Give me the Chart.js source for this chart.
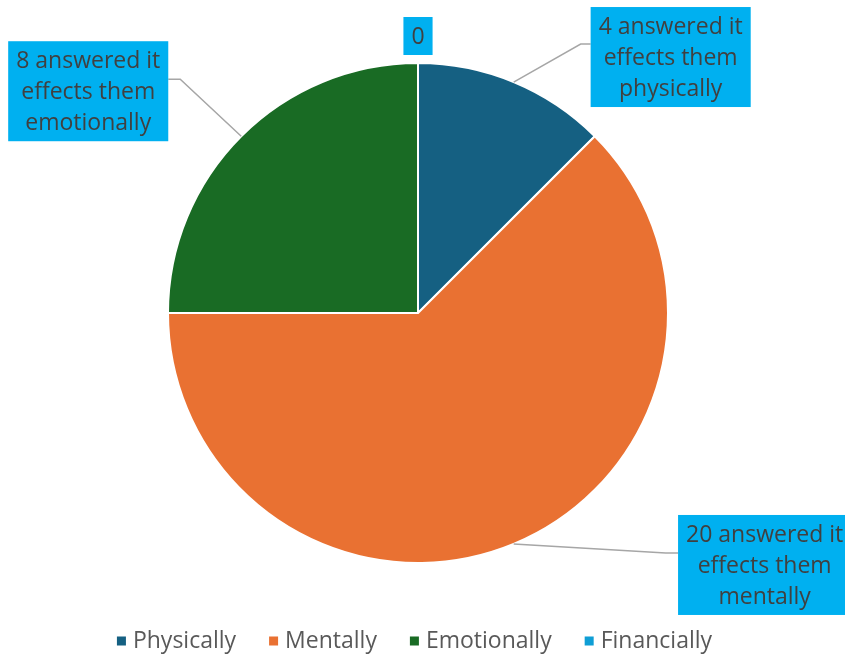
<!DOCTYPE html>
<html>
<head>
<meta charset="utf-8">
<script src="https://cdn.jsdelivr.net/npm/chart.js@4"></script>
<style>
  html, body { margin: 0; padding: 0; background: #fff; }
  #wrap { width: 845px; height: 655px; }
</style>
</head>
<body>
<div id="wrap"><canvas id="pie"></canvas></div>
<script>
const categories = ["Physically", "Mentally", "Emotionally", "Financially"];
const answers = [4, 20, 8, 0];
const calloutText = [
  ["4 answered it", "effects them", "physically"],
  ["20 answered it", "effects them", "mentally"],
  ["8 answered it", "effects them", "emotionally"],
  ["0"]
];
const colors = ["#156082", "#E97132", "#196B24", "#0F9ED5"];

// callout box centre and leader elbow, relative to the slice's outer edge point
const calloutOffset = [
  { dx: 157, dy: -25, elbow: [67, -38] },
  { dx: 251, dy: 21, elbow: [152, 9] },
  { dx: -153, dy: -45, elbow: [-61, -57] },
  { dx: 0, dy: -27, elbow: null }
];

const FONT = "23px 'Open Sans'";

const callouts = {
  id: "callouts",
  afterDatasetsDraw(chart) {
    const ctx = chart.ctx;
    const meta = chart.getDatasetMeta(0);
    ctx.save();
    ctx.font = FONT;
    ctx.textAlign = "center";
    ctx.textBaseline = "middle";
    meta.data.forEach((arc, i) => {
      const mid = (arc.startAngle + arc.endAngle) / 2;
      const ex = arc.x + Math.cos(mid) * arc.outerRadius;
      const ey = arc.y + Math.sin(mid) * arc.outerRadius;
      const off = calloutOffset[i];
      const lines = calloutText[i];
      const lh = 31;
      let w = 0;
      lines.forEach(t => { w = Math.max(w, ctx.measureText(t).width); });
      const bw = w + 16;
      const bh = lines.length * lh + 7;
      const cx = ex + off.dx, cy = ey + off.dy;
      const bx = cx - bw / 2, by = cy - bh / 2;

      if (off.elbow) {
        const kx = ex + off.elbow[0], ky = ey + off.elbow[1];
        const endX = off.dx > 0 ? bx : bx + bw;
        ctx.strokeStyle = "#A6A6A6";
        ctx.lineWidth = 1.5;
        ctx.beginPath();
        ctx.moveTo(ex, ey);
        ctx.lineTo(kx, ky);
        ctx.lineTo(endX, ky);
        ctx.stroke();
      }

      ctx.fillStyle = "#00B0F0";
      ctx.fillRect(bx, by, bw, bh);
      ctx.fillStyle = "#404040";
      lines.forEach((t, j) => {
        ctx.fillText(t, cx, by + 5 + lh * (j + 0.5));
      });
    });
    ctx.restore();
  },
  afterDraw(chart) {
    // legend along the bottom
    const ctx = chart.ctx;
    ctx.save();
    ctx.font = FONT;
    ctx.textBaseline = "middle";
    const gap = 33, box = 9, textGap = 7;
    const widths = categories.map(c => box + textGap + ctx.measureText(c).width);
    const total = widths.reduce((a, b) => a + b, 0) + gap * (categories.length - 1);
    let x = chart.width / 2 - 8 - total / 2;
    const y = 641;
    categories.forEach((c, i) => {
      ctx.fillStyle = colors[i];
      ctx.fillRect(x, y - box / 2, box, box);
      ctx.fillStyle = "#595959";
      ctx.fillText(c, x + box + textGap, y);
      x += widths[i] + gap;
    });
    ctx.restore();
  }
};

new Chart(document.getElementById("pie"), {
  type: "pie",
  data: {
    labels: categories,
    datasets: [{
      data: answers,
      backgroundColor: colors,
      borderColor: "#ffffff",
      borderWidth: 2
    }]
  },
  options: {
    responsive: true,
    maintainAspectRatio: false,
    animation: false,
    layout: { padding: { top: 62, bottom: 91, left: 0, right: 9 } },
    plugins: {
      legend: { display: false },
      tooltip: { enabled: false }
    }
  },
  plugins: [callouts]
});
</script>
</body>
</html>
